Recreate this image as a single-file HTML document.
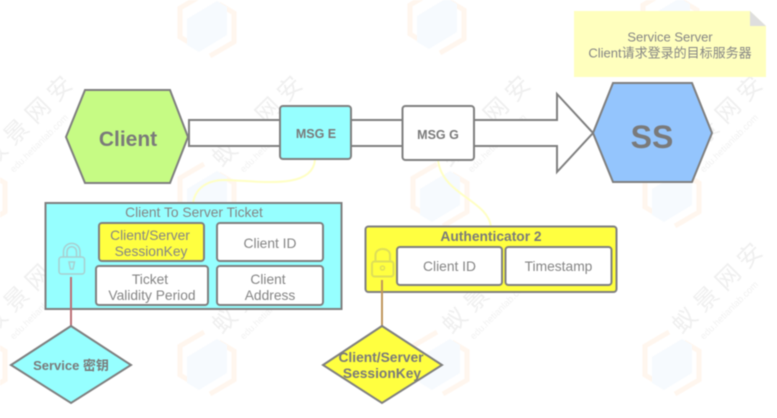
<!DOCTYPE html>
<html>
<head>
<meta charset="utf-8">
<style>
html,body{margin:0;padding:0;background:#fff;width:777px;height:418px;overflow:hidden}
svg{display:block;filter:blur(0.45px)}
text{font-family:"Liberation Sans","Noto Sans CJK SC",sans-serif;fill:#858585;text-anchor:middle}
.b{font-weight:bold;fill:#7a7a7a}
.box{fill:#fff;stroke:#7f7f7f;stroke-width:2}
.s{stroke:#7f7f7f;stroke-width:2}
.wt{fill:#efefef;font-size:24px;text-anchor:start}
.wu{fill:#f1f1f1;font-size:9.5px;text-anchor:start}
</style>
</head>
<body>
<svg width="777" height="418" viewBox="0 0 777 418" xmlns="http://www.w3.org/2000/svg">
<defs>
<g id="logo">
<path d="M-3,-31 L-27,-17 L-27,12 L-12,21" fill="none" stroke="#fff6ee" stroke-width="5"/>
<path d="M3,31 L27,17 L27,-12 L12,-21" fill="none" stroke="#fff6ee" stroke-width="5"/>
<path d="M10,-24 L20,-18 L20,10 L-8,27 L-20,20 L-20,-6 Z" fill="#f6fafe"/>
</g>
<g id="mark">
<text class="wt" transform="rotate(-45)" x="0" y="0">蚁 景 网 安</text>
<text class="wu" transform="rotate(-45)" x="12" y="19">edu.hetianlab.com</text>
</g>
</defs>

<!-- watermark -->
<use href="#logo" x="207" y="25"/><use href="#logo" x="437" y="22"/><use href="#logo" x="670" y="22"/>
<use href="#logo" x="207" y="195"/><use href="#logo" x="440" y="195"/><use href="#logo" x="672" y="195"/>
<use href="#logo" x="207" y="363"/><use href="#logo" x="440" y="363"/><use href="#logo" x="672" y="363"/>
<use href="#logo" x="-22" y="195"/><use href="#logo" x="-22" y="363"/>
<use href="#mark" x="-8" y="168"/><use href="#mark" x="222" y="168"/><use href="#mark" x="450" y="168"/><use href="#mark" x="682" y="168"/>
<use href="#mark" x="-8" y="335"/><use href="#mark" x="222" y="335"/><use href="#mark" x="452" y="335"/><use href="#mark" x="682" y="335"/>

<!-- curves -->
<path d="M315,160 C312,190 260,181 225,180 C205,180 195,190 193,203" fill="none" stroke="#ffffc4" stroke-width="2"/>
<path d="M438,160 C442,195 488,200 491,227" fill="none" stroke="#ffffc4" stroke-width="2"/>

<!-- big arrow -->
<path d="M189,120 H557 V94 L593,133 L557,172 V146 H189 Z" fill="#fff" class="s"/>

<!-- client hexagon -->
<polygon points="66,137 85,90 170,90 188,137 170,183 85,183" fill="#c6fb84" class="s"/>
<text class="b" x="128" y="146" font-size="21">Client</text>

<!-- SS hexagon -->
<polygon points="593,133 613,83 692,83 712,133 692,182 613,182" fill="#94c5fd" class="s"/>
<text class="b" x="652" y="148" font-size="32">SS</text>

<!-- MSG boxes -->
<rect x="280" y="106" width="71" height="53" rx="3" fill="#96ffff" class="s"/>
<text class="b" x="316" y="138" font-size="12.500">MSG E</text>
<rect x="402.500" y="106" width="71.500" height="54" rx="3" class="box"/>
<text class="b" x="438" y="139" font-size="12.500">MSG G</text>

<!-- note -->
<polygon points="574,11 750,11 766,26 766,77 574,77" fill="#ffffbe"/>
<polygon points="750,11 766,26 750,26" fill="#dedede"/>
<text x="670" y="41.500" font-size="13">Service Server</text>
<text x="670" y="57.500" font-size="13">Client请求登录的目标服务器</text>

<!-- ticket -->
<rect x="45.500" y="203" width="296" height="106" fill="#96ffff" class="s"/>
<text x="194" y="217" font-size="13.800">Client To Server Ticket</text>
<rect x="99" y="223" width="105" height="38" rx="3" fill="#ffff40" class="s"/>
<text x="150" y="240" font-size="13.800">Client/Server</text>
<text x="151" y="256" font-size="13.800">SessionKey</text>
<rect x="217" y="223" width="106" height="38" rx="3" class="box"/>
<text x="270" y="248" font-size="13.800">Client ID</text>
<rect x="96" y="266" width="112" height="39" rx="3" class="box"/>
<text x="150" y="284" font-size="13.800">Ticket</text>
<text x="152" y="300" font-size="13.800">Validity Period</text>
<rect x="217" y="266" width="106" height="39" rx="3" class="box"/>
<text x="268" y="284" font-size="13.800">Client</text>
<text x="270" y="300" font-size="13.800">Address</text>

<!-- ticket lock -->
<g fill="none" stroke="#a8cfd0" stroke-width="1.500">
<rect x="59" y="257" width="25.500" height="17" rx="2.500"/>
<path d="M63.500,257 V252 C63.500,240.500 80,240.500 80,252 V257"/>
<path d="M67,257 V252 C67,245 76.500,245 76.500,252 V257"/>
<path d="M69,262 H74.500 L73,269 H70.500 Z"/>
</g>
<line x1="71" y1="277" x2="71" y2="326" stroke="#bd6f75" stroke-width="2"/>
<polygon points="71,326 131,365 71,403 11,365" fill="#96ffff" class="s"/>
<text class="b" x="71" y="370" font-size="13">Service 密钥</text>

<!-- authenticator -->
<rect x="365.500" y="226.500" width="251" height="65.500" rx="3" fill="#ffff40" class="s"/>
<text class="b" x="491" y="241" font-size="13.800">Authenticator 2</text>
<rect x="397" y="247" width="105" height="38" rx="3" class="box"/>
<text x="449.500" y="271" font-size="13.800">Client ID</text>
<rect x="505.500" y="247" width="106" height="38" rx="3" class="box"/>
<text x="558.500" y="271" font-size="13.800">Timestamp</text>

<!-- auth lock -->
<g fill="none" stroke="#dede58" stroke-width="2">
<rect x="372" y="261.500" width="21.500" height="15" rx="2.500"/>
<path d="M375.500,261 V255 C375.500,247 390,247 390,255 V261"/>
</g>
<circle cx="382.500" cy="268" r="2" fill="none" stroke="#dede58" stroke-width="1.500"/>
<line x1="382" y1="280" x2="382" y2="326" stroke="#c0975c" stroke-width="2"/>
<polygon points="382,326 442,365 382,403 323,365" fill="#ffff40" class="s"/>
<text class="b" x="381" y="362" font-size="13.800">Client/Server</text>
<text class="b" x="382" y="378" font-size="13.800">SessionKey</text>
</svg>
</body>
</html>
